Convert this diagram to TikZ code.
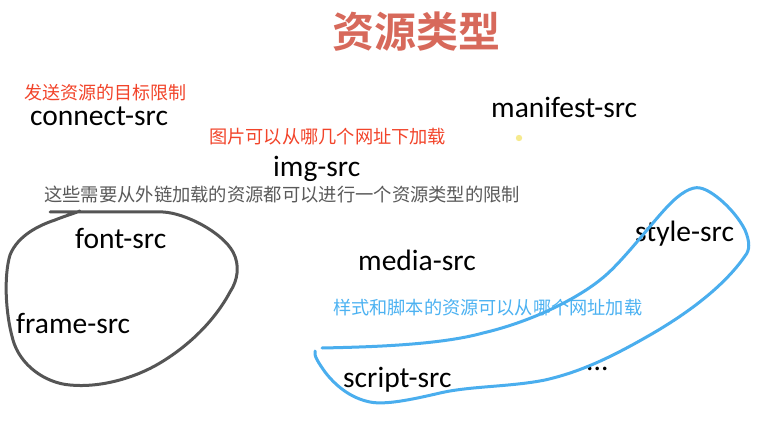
\documentclass[tikz,border=0pt]{standalone}
\usepackage{fontspec}
\usepackage{graphicx}
\setmainfont{Carlito}
\newfontfamily\cjk{Noto Sans CJK SC}
\newfontfamily\cjkb{Noto Sans CJK SC Bold}
\definecolor{titlered}{HTML}{D7695B}
\definecolor{notered}{HTML}{F2442A}
\definecolor{notegray}{HTML}{5A5A5A}
\definecolor{noteblue}{HTML}{4CB2F2}
\definecolor{loopgray}{HTML}{555555}
\definecolor{loopblue}{HTML}{4AAEEE}
\definecolor{dotyellow}{HTML}{F6EA8E}
\newcommand{\fitw}[2]{\resizebox{#1pt}{!}{\cjk\fontsize{20}{22}\selectfont #2}}
\begin{document}
\begin{tikzpicture}[x=1pt,y=-1pt,
  term/.style={inner sep=0pt,anchor=base west,font=\fontsize{29.5}{33}\selectfont},
  note/.style={inner sep=0pt,anchor=base west},
  loop/.style={line width=3pt,line cap=round,line join=round}]
\useasboundingbox (0,0) rectangle (781,430);
\fill[white] (0,0) rectangle (781,430);
% title
\node[inner sep=0pt,anchor=base,text=titlered,font=\cjkb\fontsize{42}{46}\selectfont] (title) at (416,48) {资源类型};
% terms
\node[term] (connect) at (30,126) {connect-src};
\node[term] (manifest) at (491,118) {manifest-src};
\node[term] (img) at (273,177) {img-src};
\node[term] (font) at (75,249) {font-src};
\node[term] (frame) at (16,333) {frame-src};
\node[term] (media) at (358,270) {media-src};
\node[term] (style) at (635,242) {style-src};
\node[term] (script) at (343,387) {script-src};
\node[term] (dots) at (586,370) {...};
% notes
\node[note,text=notered] (n1) at (24,100) {\fitw{162}{发送资源的目标限制}};
\node[note,text=notered] (n2) at (209,143.5) {\fitw{237}{图片可以从哪几个网址下加载}};
\node[note,text=notegray] (n3) at (44,202) {\fitw{476}{这些需要从外链加载的资源都可以进行一个资源类型的限制}};
\node[note,text=noteblue] (n4) at (333,314) {\fitw{309}{样式和脚本的资源可以从哪个网址加载}};
% yellow dot
\fill[dotyellow] (519,138) circle (3.2);
% gray loop
\draw[loop,loopgray] (50,212) -- (163,212)
  .. controls (185,213) and (222,232) .. (233,252)
  .. controls (240,265) and (238,280) .. (230,292)
  .. controls (215,320) and (190,345) .. (160,363)
  .. controls (135,378) and (100,388) .. (70,385)
  .. controls (45,383) and (20,365) .. (13,340)
  .. controls (5,312) and (4,275) .. (10,255)
  .. controls (18,235) and (40,225) .. (55,220)
  .. controls (65,216) and (75,213) .. (80,211);
% blue loop
\draw[loop,loopblue] (322,348)
  .. controls (370,347) and (440,345) .. (483,333)
  .. controls (530,322) and (575,300) .. (600,280)
  .. controls (620,265) and (650,225) .. (667,207)
  .. controls (680,193) and (692,186) .. (700,188)
  .. controls (712,190) and (735,210) .. (745,230)
  .. controls (750,242) and (750,250) .. (745,256)
  .. controls (725,285) and (690,312) .. (650,335)
  .. controls (610,358) and (580,372) .. (545,380)
  .. controls (510,387) and (470,386) .. (440,393)
  .. controls (410,400) and (385,405) .. (370,402)
  .. controls (350,398) and (335,385) .. (325,372)
  .. controls (318,362) and (314,356) .. (315,351);
\end{tikzpicture}
\end{document}
